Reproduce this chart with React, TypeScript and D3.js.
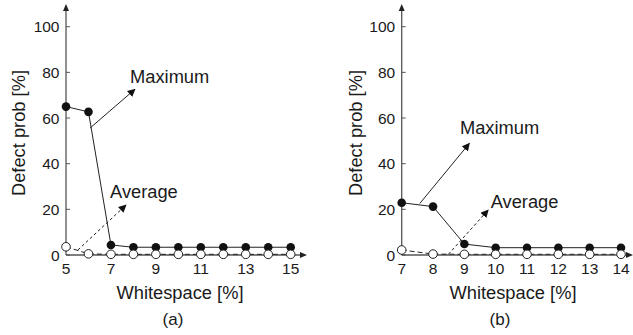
import React from "react";
import * as d3 from "d3";

const whitespaceA = [5, 6, 7, 8, 9, 10, 11, 12, 13, 14, 15];
const maximumA = [65, 62.7, 4.4, 3.4, 3.4, 3.4, 3.4, 3.4, 3.4, 3.4, 3.4];
const averageA = [3.6, 0.5, 0.3, 0.3, 0.3, 0.3, 0.3, 0.3, 0.3, 0.3, 0.3];
const xTicksA = [5, 7, 9, 11, 13, 15];

const whitespaceB = [7, 8, 9, 10, 11, 12, 13, 14];
const maximumB = [22.9, 21.2, 4.8, 3.2, 3.2, 3.2, 3.2, 3.2];
const averageB = [2.2, 0.4, 0.3, 0.3, 0.3, 0.3, 0.3, 0.3];
const xTicksB = [7, 8, 9, 10, 11, 12, 13, 14];

const yTicks = [0, 20, 40, 60, 80, 100];

// annotation anchors in data units: [fromX, fromY, toX, toY, textX, textY]
const annotMaxA = [6.07, 55.6, 8.07, 72.6, 7.85, 75.3];
const annotAvgA = [5.53, 2.2, 7.67, 21.9, 6.96, 24.9];
const annotMaxB = [7.58, 22.6, 9.16, 48.9, 8.86, 53.2];
const annotAvgB = [8.49, 0.3, 9.76, 19.7, 9.84, 20.8];

const FONT = "'Liberation Sans', Arial, Helvetica, sans-serif";
const TXT = "#1a1a1a";
const AX = "#555";
const TICK_FS = 15.5;
const TITLE_FS = 18.3;

type PanelProps = {
  id: string;
  xs: number[];
  maxV: number[];
  avgV: number[];
  xTicks: number[];
  xDomain: [number, number];
  xRange: [number, number];
  axisEnd: number;
  annotMax: number[];
  annotAvg: number[];
  yTitleX: number;
  xTitleX: number;
  capX: number;
  caption: string;
};

function Panel(p: PanelProps) {
  const x = d3.scaleLinear().domain(p.xDomain).range(p.xRange);
  const y = d3.scaleLinear().domain([0, 100]).range([255, 26.7]);
  const x0 = p.xRange[0];
  const y0 = y(0);
  const line = d3
    .line<[number, number]>()
    .x((d) => x(d[0]))
    .y((d) => y(d[1]));
  const maxPts = p.xs.map((v, i) => [v, p.maxV[i]] as [number, number]);
  const avgPts = p.xs.map((v, i) => [v, p.avgV[i]] as [number, number]);
  const am = p.annotMax;
  const aa = p.annotAvg;
  return (
    <g>
      {/* axes */}
      <line x1={x0} y1={y0} x2={x0} y2={9} stroke={AX} strokeWidth={1.3} />
      <path d={`M${x0},4 L${x0 - 3},11 L${x0 + 3},11 Z`} fill="#222" />
      <line x1={x0} y1={y0} x2={p.axisEnd - 5} y2={y0} stroke={AX} strokeWidth={1.3} />
      <path d={`M${p.axisEnd},${y0} L${p.axisEnd - 7},${y0 - 3} L${p.axisEnd - 7},${y0 + 3} Z`} fill="#222" />
      {yTicks.map((t) => (
        <g key={t}>
          <line x1={x0} x2={x0 + 4} y1={y(t)} y2={y(t)} stroke={AX} strokeWidth={1} />
          <text x={x0 - 6.5} y={y(t)} dy="0.36em" textAnchor="end" fontSize={TICK_FS} fontFamily={FONT} fill={TXT}>
            {t}
          </text>
        </g>
      ))}
      {p.xTicks.map((t) => (
        <text key={t} x={x(t)} y={274} textAnchor="middle" fontSize={TICK_FS} fontFamily={FONT} fill={TXT}>
          {t}
        </text>
      ))}
      <text x={p.xTitleX} y={299} textAnchor="middle" fontSize={TITLE_FS} fontFamily={FONT} fill={TXT}>
        Whitespace [%]
      </text>
      <text x={p.capX} y={324.5} textAnchor="middle" fontSize={17} fontFamily={FONT} fill={TXT}>
        {p.caption}
      </text>
      <text
        transform={`translate(${p.yTitleX},133) rotate(-90)`}
        textAnchor="middle"
        fontSize={TITLE_FS}
        fontFamily={FONT}
        fill={TXT}
      >
        Defect prob [%]
      </text>
      {/* series */}
      <path d={line(avgPts) || ""} fill="none" stroke="#222" strokeWidth={1} strokeDasharray="5,3" />
      <path d={line(maxPts) || ""} fill="none" stroke="#222" strokeWidth={1} />
      {maxPts.map((d, i) => (
        <circle key={"m" + i} cx={x(d[0])} cy={y(d[1])} r={4.3} fill="#111" />
      ))}
      {avgPts.map((d, i) => (
        <circle key={"a" + i} cx={x(d[0])} cy={y(d[1])} r={4.3} fill="#fff" stroke="#222" strokeWidth={1} />
      ))}
      {/* annotations */}
      <line
        x1={x(am[0])}
        y1={y(am[1])}
        x2={x(am[2])}
        y2={y(am[3])}
        stroke="#222"
        strokeWidth={1}
        markerEnd={`url(#arr-${p.id})`}
      />
      <text x={x(am[4])} y={y(am[5])} fontSize={TITLE_FS} fontFamily={FONT} fill={TXT}>
        Maximum
      </text>
      <line
        x1={x(aa[0])}
        y1={y(aa[1])}
        x2={x(aa[2])}
        y2={y(aa[3])}
        stroke="#222"
        strokeWidth={1}
        strokeDasharray="3,2.5"
        markerEnd={`url(#arr-${p.id})`}
      />
      <text x={x(aa[4])} y={y(aa[5])} fontSize={TITLE_FS} fontFamily={FONT} fill={TXT}>
        Average
      </text>
      <defs>
        <marker
          id={`arr-${p.id}`}
          viewBox="0 0 10 10"
          refX={9}
          refY={5}
          markerWidth={8}
          markerHeight={8}
          markerUnits="userSpaceOnUse"
          orient="auto"
        >
          <path d="M0,0 L10,5 L0,10 Z" fill="#111" />
        </marker>
      </defs>
    </g>
  );
}

export default function App() {
  return (
    <svg
      width={633}
      height={335}
      style={{ position: "absolute", left: 0, top: 0, background: "#fff" }}
    >
      <rect width={633} height={335} fill="#fff" />
      <Panel
        id="a"
        xs={whitespaceA}
        maxV={maximumA}
        avgV={averageA}
        xTicks={xTicksA}
        xDomain={[5, 15]}
        xRange={[66, 290.7]}
        axisEnd={307}
        annotMax={annotMaxA}
        annotAvg={annotAvgA}
        yTitleX={24.5}
        xTitleX={180}
        capX={173}
        caption="(a)"
      />
      <Panel
        id="b"
        xs={whitespaceB}
        maxV={maximumB}
        avgV={averageB}
        xTicks={xTicksB}
        xDomain={[7, 14]}
        xRange={[401.7, 621]}
        axisEnd={633}
        annotMax={annotMaxB}
        annotAvg={annotAvgB}
        yTitleX={361.5}
        xTitleX={513}
        capX={500}
        caption="(b)"
      />
    </svg>
  );
}
